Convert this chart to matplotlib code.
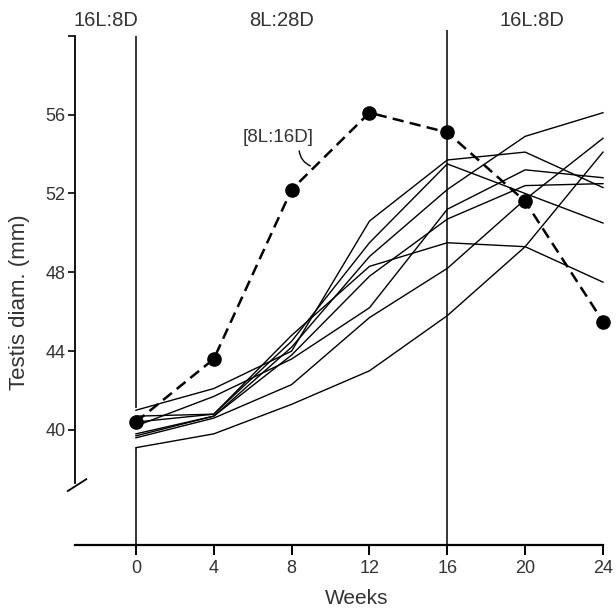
import numpy as np
import matplotlib
matplotlib.use("Agg")
import matplotlib.pyplot as plt

plt.rcParams['font.family'] = ['Liberation Sans', 'DejaVu Sans']

# weeks of sampling
weeks = [0, 4, 8, 12, 16, 20, 24]

# individual animals (solid lines), testis diameter in mm
animal_a = [41.0, 42.1, 44.0, 50.6, 53.7, 54.1, 52.3]
animal_b = [40.7, 40.8, 44.5, 49.5, 53.5, 52.0, 50.5]
animal_c = [39.8, 40.7, 44.2, 48.8, 52.2, 54.9, 56.1]
animal_d = [40.2, 41.7, 43.6, 46.2, 51.2, 53.2, 52.8]
animal_e = [39.7, 40.7, 43.8, 47.8, 50.7, 52.4, 52.5]
animal_f = [40.4, 40.8, 44.8, 48.3, 49.5, 49.3, 47.5]
animal_g = [39.6, 40.6, 42.3, 45.7, 48.2, 51.7, 54.8]
animal_h = [39.1, 39.8, 41.3, 43.0, 45.8, 49.3, 54.1]
animals = [animal_a, animal_b, animal_c, animal_d,
           animal_e, animal_f, animal_g, animal_h]

# control group kept on 8L:16D (dashed, filled circles)
control = [40.4, 43.6, 52.2, 56.1, 55.1, 51.6, 45.5]

# photoperiod labels along the top
periods = ['16L:8D', '8L:28D', '16L:8D']
period_x = [-1.54, 7.5, 20.35]

yticks = [40, 44, 48, 52, 56, 60]
ytick_labels = ['40', '44', '48', '52', '56', '']
xticks = [0, 4, 8, 12, 16, 20, 24]

txt = '#333333'

fig = plt.figure(figsize=(6.16, 6.08), dpi=100)
ax = fig.add_axes([75 / 616, 63 / 608, 528 / 616, 519 / 608])
ax.set_xlim(-3.13, 24.0)
ax.set_ylim(34.16, 60.5)

for s in ['top', 'right']:
    ax.spines[s].set_visible(False)
ax.spines['left'].set_bounds(37.3, 60)
ax.spines['left'].set_linewidth(1.3)
ax.spines['bottom'].set_linewidth(1.6)

ax.set_yticks(yticks)
ax.set_yticklabels(ytick_labels)
ax.set_xticks(xticks)
ax.tick_params(axis='y', direction='out', length=5, width=1.2,
               labelsize=13, labelcolor=txt, pad=2)
ax.tick_params(axis='x', direction='out', length=7, width=1.4,
               labelsize=13, labelcolor=txt, pad=4)

# axis break mark at foot of the y axis
ax.plot([-3.5, -2.55], [36.9, 37.5], color='black', lw=1.3, clip_on=False)

# photoperiod change lines
ax.vlines(0, 34.16, 39.1, color='black', lw=1.1)
ax.vlines(0, 41.1, 60.0, color='black', lw=1.1)
ax.vlines(16, 34.16, 60.3, color='black', lw=1.1, clip_on=False)

for vals in animals:
    ax.plot(weeks, vals, color='black', lw=1.0, clip_on=False)

ax.plot(weeks, control, color='black', lw=1.8, ls=(0, (4.5, 2.5)),
        marker='o', markersize=9.5, clip_on=False, zorder=5)

for lab, px in zip(periods, period_x):
    ax.text(px, 60.8, lab, ha='center', va='center', fontsize=14.5,
            color=txt, clip_on=False)

ax.text(7.3, 54.82, '[8L:16D]', ha='center', va='center', fontsize=13.5,
        color=txt)
ax.annotate('', xy=(9.1, 53.35), xytext=(8.38, 54.3),
            arrowprops=dict(arrowstyle='-', connectionstyle='arc3,rad=0.35',
                            lw=1.0, color='black'))

fig.text(357 / 616, 1 - 598 / 608, 'Weeks', ha='center', va='center',
         fontsize=15, color=txt)
fig.text(20 / 616, 1 - 302 / 608, 'Testis diam. (mm)', ha='center',
         va='center', rotation=90, fontsize=16, color=txt)

fig.savefig('out.png', dpi=100, facecolor='white')
